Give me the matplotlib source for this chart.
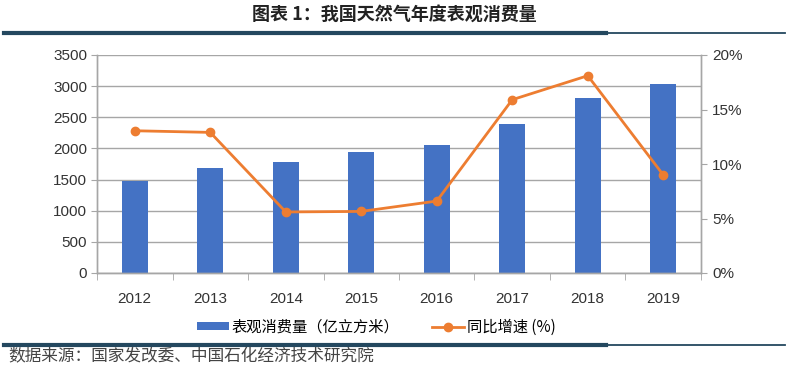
import matplotlib.pyplot as plt
from matplotlib.lines import Line2D
from matplotlib.patches import Patch
from matplotlib.ticker import FuncFormatter

plt.rcParams['font.family'] = ['Liberation Sans', 'Noto Sans CJK SC', 'DejaVu Sans']
CJK = ['Noto Sans CJK SC', 'DejaVu Sans']

years = ['2012', '2013', '2014', '2015', '2016', '2017', '2018', '2019']
consumption = [1480, 1690, 1790, 1935, 2060, 2390, 2805, 3030]   # 亿立方米
growth = [13.05, 12.9, 5.6, 5.65, 6.6, 15.9, 18.1, 9.0]           # %

BAR_COLOR = '#4472C4'
LINE_COLOR = '#ED7D31'
GRID_COLOR = '#a6a6a6'
RULE_COLOR = '#24485f'

fig = plt.figure(figsize=(7.88, 3.76), dpi=100)
ax = fig.add_axes([97 / 788, 1 - 273 / 376, 604 / 788, 218 / 376])
ax2 = ax.twinx()

x = list(range(len(years)))
ax.bar(x, consumption, width=0.35, color=BAR_COLOR, zorder=2)
ax.set_xlim(-0.5, len(years) - 0.5)
ax.set_ylim(0, 3500)
ax.set_yticks(range(0, 3501, 500))
ax.yaxis.grid(True, color=GRID_COLOR, linewidth=1.0, zorder=0)
ax.set_axisbelow(True)
ax.set_xticks(x)
ax.set_xticklabels(years)
ax.set_xticks([i - 0.5 for i in range(len(years) + 1)], minor=True)
ax.tick_params(axis='x', which='major', length=0, labelsize=11, pad=14, labelcolor='#333333')
ax.tick_params(axis='x', which='minor', length=5, color=GRID_COLOR, direction='out')
ax.tick_params(axis='y', length=4, color=GRID_COLOR, labelsize=11, pad=3, labelcolor='#333333')

ax2.plot(x, growth, color=LINE_COLOR, linewidth=2, marker='o', markersize=6, zorder=3)
ax2.set_ylim(0, 20)
ax2.set_yticks(range(0, 21, 5))
ax2.yaxis.set_major_formatter(FuncFormatter(lambda v, p: f'{int(v)}%'))
ax2.tick_params(axis='y', length=4, color=GRID_COLOR, labelsize=11, pad=4, labelcolor='#333333')

for a in (ax, ax2):
    a.spines['top'].set_visible(False)
    for s in ('left', 'right', 'bottom'):
        a.spines[s].set_color(GRID_COLOR)
        a.spines[s].set_linewidth(1.0)

# title and rules
fig.text(394 / 788, 1 - 15 / 376, '图表 1：我国天然气年度表观消费量', family=CJK,
         fontsize=13, fontweight='bold', ha='center', va='center', color='#222222')
for y in (33, 345):
    fig.add_artist(Line2D([4 / 788, 606 / 788], [1 - y / 376] * 2, color=RULE_COLOR,
                          linewidth=3.0, transform=fig.transFigure))
    fig.add_artist(Line2D([606 / 788, 785 / 788], [1 - y / 376] * 2, color=RULE_COLOR,
                          linewidth=1.3, transform=fig.transFigure))

handles = [Patch(facecolor=BAR_COLOR, edgecolor='none'),
           Line2D([], [], color=LINE_COLOR, linewidth=2, marker='o', markersize=6)]
labels = ['表观消费量（亿立方米）', '同比增速 (%)']
fig.legend(handles, labels, loc='center', bbox_to_anchor=(376 / 788, 1 - 327 / 376), ncol=2,
           frameon=False, prop={'family': CJK, 'size': 11}, handlelength=2.1,
           handleheight=0.45, columnspacing=2.1, handletextpad=0.2,
           borderpad=0, borderaxespad=0)

fig.text(8 / 788, 1 - 357 / 376, '数据来源：国家发改委、中国石化经济技术研究院', family=CJK,
         fontsize=12, ha='left', va='center', color='#444444')

fig.savefig('out.png', dpi=100)
